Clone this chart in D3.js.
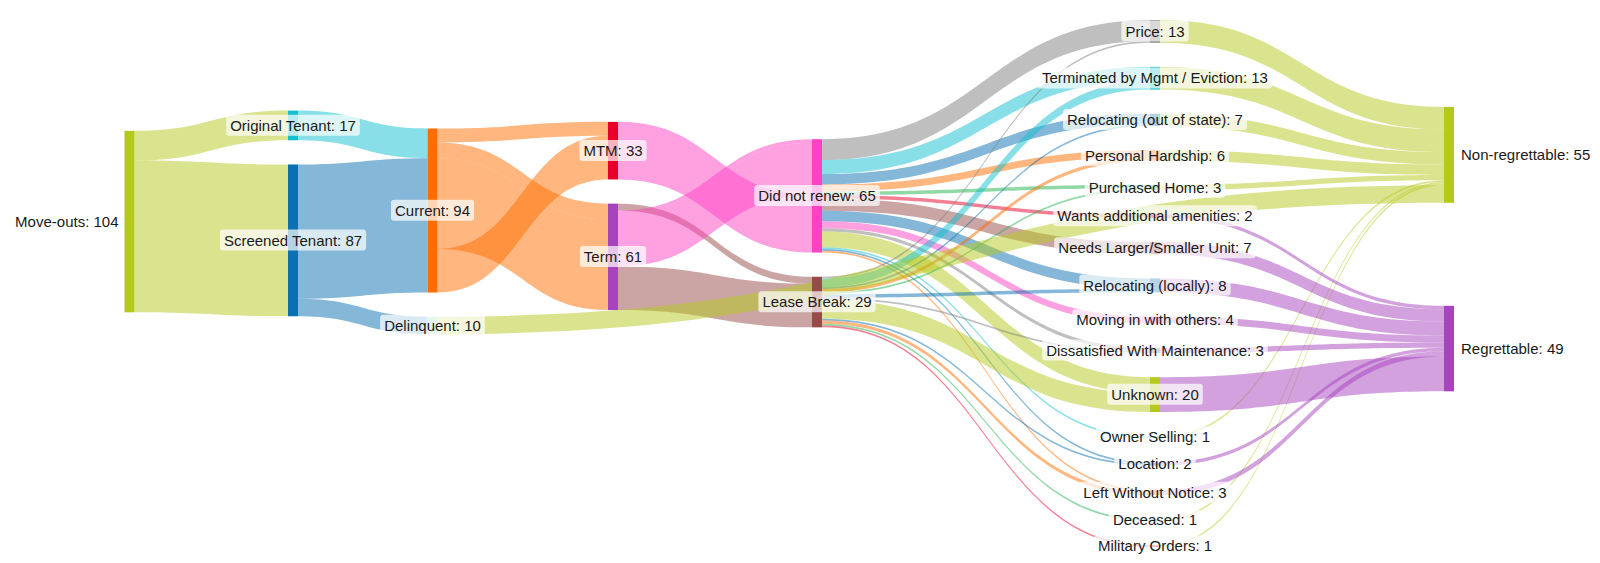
<!DOCTYPE html>
<html>
<head>
<meta charset="utf-8">
<script src="https://cdn.jsdelivr.net/npm/d3@7"></script>
<style>
  body { margin: 0; background: #fff; }
  .label { font-family: Arial, "Liberation Sans", sans-serif; font-size: 15px; fill: #1a1a1a; }
</style>
</head>
<body>
<div class="graph"></div>
<script>
//data//
let nodeNames = [
    'Move-outs',
    'Original Tenant', 'Screened Tenant',
    'Current', 'Delinquent',
    'MTM', 'Term',
    'Did not renew', 'Lease Break',
    'Price', 'Terminated by Mgmt / Eviction', 'Relocating (out of state)', 'Personal Hardship',
    'Purchased Home', 'Wants additional amenities', 'Needs Larger/Smaller Unit', 'Relocating (locally)',
    'Moving in with others', 'Dissatisfied With Maintenance', 'Unknown', 'Owner Selling',
    'Location', 'Left Without Notice', 'Deceased', 'Military Orders',
    'Non-regrettable', 'Regrettable'
];

let tenantLinks = [
    ['Move-outs', 'Original Tenant', 17],
    ['Move-outs', 'Screened Tenant', 87],
    ['Original Tenant', 'Current', 17],
    ['Screened Tenant', 'Current', 77],
    ['Screened Tenant', 'Delinquent', 10]
];

let leaseLinks = [
    ['Current', 'MTM', 8],
    ['Current', 'Term', 9],
    ['Current', 'Term', 52],
    ['Current', 'MTM', 25],
    ['Term', 'Lease Break', 4],
    ['Term', 'Did not renew', 2],
    ['Term', 'Did not renew', 30],
    ['Term', 'Lease Break', 25],
    ['MTM', 'Did not renew', 33]
];

let reasonLinks = [
    ['Did not renew', 'Price', 12],
    ['Did not renew', 'Terminated by Mgmt / Eviction', 8],
    ['Did not renew', 'Relocating (out of state)', 6],
    ['Did not renew', 'Personal Hardship', 4],
    ['Did not renew', 'Purchased Home', 2],
    ['Did not renew', 'Wants additional amenities', 2],
    ['Did not renew', 'Needs Larger/Smaller Unit', 7],
    ['Did not renew', 'Relocating (locally)', 6],
    ['Did not renew', 'Moving in with others', 4],
    ['Did not renew', 'Dissatisfied With Maintenance', 2],
    ['Did not renew', 'Unknown', 9],
    ['Did not renew', 'Owner Selling', 1],
    ['Did not renew', 'Location', 1],
    ['Did not renew', 'Left Without Notice', 1],
    ['Lease Break', 'Price', 1],
    ['Lease Break', 'Terminated by Mgmt / Eviction', 5],
    ['Lease Break', 'Relocating (out of state)', 1],
    ['Lease Break', 'Personal Hardship', 2],
    ['Lease Break', 'Purchased Home', 1],
    ['Lease Break', 'Relocating (locally)', 2],
    ['Lease Break', 'Dissatisfied With Maintenance', 1],
    ['Lease Break', 'Unknown', 11],
    ['Lease Break', 'Location', 1],
    ['Lease Break', 'Left Without Notice', 2],
    ['Lease Break', 'Deceased', 1],
    ['Lease Break', 'Military Orders', 1]
];

let outcomeLinks = [
    ['Price', 'Non-regrettable', 13],
    ['Terminated by Mgmt / Eviction', 'Non-regrettable', 13],
    ['Relocating (out of state)', 'Non-regrettable', 7],
    ['Personal Hardship', 'Non-regrettable', 6],
    ['Purchased Home', 'Non-regrettable', 3],
    ['Owner Selling', 'Non-regrettable', 1],
    ['Deceased', 'Non-regrettable', 1],
    ['Military Orders', 'Non-regrettable', 1],
    ['Delinquent', 'Non-regrettable', 10],
    ['Wants additional amenities', 'Regrettable', 2],
    ['Needs Larger/Smaller Unit', 'Regrettable', 7],
    ['Relocating (locally)', 'Regrettable', 8],
    ['Moving in with others', 'Regrettable', 4],
    ['Dissatisfied With Maintenance', 'Regrettable', 3],
    ['Location', 'Regrettable', 2],
    ['Left Without Notice', 'Regrettable', 3],
    ['Unknown', 'Regrettable', 20]
];

//styles//
let olive = '#b5c91d', cyan = '#14bfcf', blue = '#0a70b2', orange = '#ff6d00',
    red = '#e8002b', purple = '#a544bd', pink = '#ff42c4', brown = '#964b49',
    gray = '#7f7f7f', green = '#22b24c';

let nodeColor = {
    'Move-outs': olive, 'Original Tenant': cyan, 'Screened Tenant': blue,
    'Current': orange, 'Delinquent': '#b2e3bd', 'MTM': red, 'Term': purple,
    'Did not renew': pink, 'Lease Break': brown,
    'Price': gray, 'Terminated by Mgmt / Eviction': cyan, 'Relocating (out of state)': blue,
    'Personal Hardship': orange, 'Purchased Home': green, 'Wants additional amenities': red,
    'Needs Larger/Smaller Unit': brown, 'Relocating (locally)': blue, 'Moving in with others': pink,
    'Dissatisfied With Maintenance': gray, 'Unknown': olive, 'Owner Selling': cyan,
    'Location': blue, 'Left Without Notice': orange, 'Deceased': green, 'Military Orders': red,
    'Non-regrettable': olive, 'Regrettable': purple
};
// links out of these nodes take the source colour, the rest the target colour
let sourceTinted = ['Move-outs', 'Original Tenant', 'Screened Tenant', 'Current'];

//various constants//
let w = 1600;
let h = 563;
let yTop = 20;
let yBottom = 547;
let nodeWidth = 10;
let padding = 24.2;
let iterations = 150;

//build graph//
let nodes = nodeNames.map((name, i) => ({ name: name, index: i, sourceLinks: [], targetLinks: [] }));
let byName = new Map(nodes.map(n => [n.name, n]));

let links = tenantLinks.concat(leaseLinks, reasonLinks, outcomeLinks).map(d => {
    let link = { source: byName.get(d[0]), target: byName.get(d[1]), value: d[2] };
    link.source.sourceLinks.push(link);
    link.target.targetLinks.push(link);
    return link;
});

nodes.forEach(n => {
    n.value = Math.max(d3.sum(n.sourceLinks, l => l.value), d3.sum(n.targetLinks, l => l.value));
});

// depth = longest path from a source node
nodes.forEach(n => n.depth = 0);
for (let k = 0; k < nodes.length; k++) {
    links.forEach(l => {
        if (l.target.depth < l.source.depth + 1) l.target.depth = l.source.depth + 1;
    });
}

let columns = d3.groups(nodes, n => n.depth).sort((a, b) => a[0] - b[0]).map(d => d[1]);

let xScale = d3.scaleLinear()
    .domain(d3.range(columns.length))
    .range([124.5, 288, 427.5, 608, 812, 1150, 1444]);

let ky = d3.min(columns, c => (yBottom - yTop - (c.length - 1) * padding) / d3.sum(c, n => n.value));

let vScale = d3.scaleLinear()
    .domain([0, 1])
    .range([0, ky]);

nodes.forEach(n => {
    n.x0 = xScale(n.depth);
    n.x1 = n.x0 + nodeWidth;
    n.dy = vScale(n.value);
});
links.forEach(l => l.width = vScale(l.value));

//layout: pull every node toward its neighbours, keep order and spacing//
let center = n => n.y + n.dy / 2;

// links that skip columns pull their target only
function wanted(n) {
    let outs = n.sourceLinks.filter(l => l.target.depth - n.depth === 1);
    let sum = d3.sum(outs, l => center(l.target) * l.value) +
        d3.sum(n.targetLinks, l => center(l.source) * l.value);
    let wt = d3.sum(outs, l => l.value) + d3.sum(n.targetLinks, l => l.value);
    return sum / wt;
}

function place(c) {
    let offs = [], o = 0;
    c.forEach(n => { offs.push(o); o += n.dy + padding; });
    // pool adjacent violators, weighted by node value
    let blocks = [];
    c.forEach((n, i) => {
        blocks.push({ z: wanted(n) - n.dy / 2 - offs[i], wt: n.value, count: 1 });
        while (blocks.length > 1 && blocks[blocks.length - 2].z > blocks[blocks.length - 1].z) {
            let b = blocks.pop(), a = blocks.pop();
            blocks.push({ z: (a.z * a.wt + b.z * b.wt) / (a.wt + b.wt), wt: a.wt + b.wt, count: a.count + b.count });
        }
    });
    let hi = yBottom - (offs[c.length - 1] + c[c.length - 1].dy);
    let i = 0;
    blocks.forEach(b => {
        let z = Math.max(yTop, Math.min(hi, b.z));
        for (let k = 0; k < b.count; k++, i++) c[i].y = z + offs[i];
    });
}

columns.forEach(c => {
    let y = yTop;
    c.forEach(n => { n.y = y; y += n.dy + padding; });
});

for (let i = 0; i < iterations; i++) {
    columns.forEach(place);
    columns.slice().reverse().forEach(place);
}

nodes.forEach(n => {
    n.y0 = n.y;
    n.y1 = n.y + n.dy;
});

//link offsets, stacked in row order//
nodes.forEach(n => {
    let y = n.y0;
    n.sourceLinks.forEach(l => { l.sy = y; y += l.width; });
    y = n.y0;
    n.targetLinks.forEach(l => { l.ty = y; y += l.width; });
});

//SVG//
let svg = d3.select('.graph')
    .append('svg')
    .attr('width', w)
    .attr('height', h);

function band(l) {
    let x0 = l.source.x1, x1 = l.target.x0, xm = (x0 + x1) / 2;
    let p = d3.path();
    p.moveTo(x0, l.sy);
    p.bezierCurveTo(xm, l.sy, xm, l.ty, x1, l.ty);
    p.lineTo(x1, l.ty + l.width);
    p.bezierCurveTo(xm, l.ty + l.width, xm, l.sy + l.width, x0, l.sy + l.width);
    p.closePath();
    return p.toString();
}

svg.append('g')
    .selectAll('path')
    .data(links)
    .enter()
    .append('path')
    .attr('d', band)
    .style('fill', l => sourceTinted.includes(l.source.name) ? nodeColor[l.source.name] : nodeColor[l.target.name])
    .style('fill-opacity', 0.5);

svg.append('g')
    .selectAll('rect')
    .data(nodes)
    .enter()
    .append('rect')
    .attr('x', n => n.x0)
    .attr('y', n => n.y0)
    .attr('width', nodeWidth)
    .attr('height', n => Math.max(1, n.y1 - n.y0))
    .style('fill', n => nodeColor[n.name]);

//Labels//
let last = columns.length - 1;
let label = svg.append('g')
    .selectAll('g')
    .data(nodes)
    .enter()
    .append('g')
    .attr('transform', n => {
        let x = n.depth === 0 ? n.x0 - 6 : n.depth === last ? n.x1 + 7 : (n.x0 + n.x1) / 2;
        return 'translate(' + x + ',' + (n.y0 + n.y1) / 2 + ')';
    });

label.append('rect')
    .attr('rx', 3)
    .style('fill', '#fff')
    .style('fill-opacity', 0.7);

label.append('text')
    .attr('class', 'label')
    .attr('dy', '0.35em')
    .attr('text-anchor', n => n.depth === 0 ? 'end' : n.depth === last ? 'start' : 'middle')
    .text(n => n.name + ': ' + n.value);

label.each(function () {
    let box = d3.select(this).select('text').node().getBBox();
    d3.select(this).select('rect')
        .attr('x', box.x - 4)
        .attr('y', box.y - 2)
        .attr('width', box.width + 8)
        .attr('height', box.height + 4);
});
</script>
</body>
</html>
